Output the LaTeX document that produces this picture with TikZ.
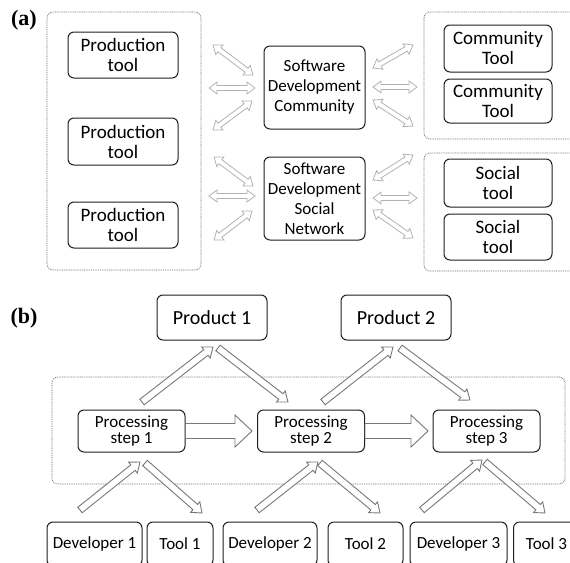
\documentclass[tikz,border=0pt]{standalone}
\usepackage{fontspec}
\setmainfont{Carlito}
\newfontfamily\panelfont{Liberation Serif}
\usetikzlibrary{calc}

\definecolor{lightarrow}{RGB}{178,178,178}
\definecolor{darkarrow}{RGB}{120,120,120}
\definecolor{framegray}{RGB}{120,120,120}
\definecolor{boxline}{RGB}{30,30,30}

% single-headed outline arrow: style, start, tip, shaft half-width, head half-width, head length
\newcommand\hollowone[6]{%
  \coordinate (hbase) at ($(#3)!#6!(#2)$);
  \draw[#1] ($(#2)!#4!90:(#3)$) -- ($(hbase)!#4!90:(#3)$) -- ($(hbase)!#5!90:(#3)$)
    -- (#3) -- ($(hbase)!#5!-90:(#3)$) -- ($(hbase)!#4!-90:(#3)$) -- ($(#2)!#4!-90:(#3)$) -- cycle;}

% double-headed outline arrow: style, end A, end B, shaft half-width, head half-width, head length
\newcommand\hollowtwo[6]{%
  \coordinate (hbasea) at ($(#2)!#6!(#3)$);
  \coordinate (hbaseb) at ($(#3)!#6!(#2)$);
  \draw[#1] (#2) -- ($(hbasea)!#5!90:(#3)$) -- ($(hbasea)!#4!90:(#3)$) -- ($(hbaseb)!#4!90:(#3)$)
    -- ($(hbaseb)!#5!90:(#3)$) -- (#3) -- ($(hbaseb)!#5!-90:(#3)$) -- ($(hbaseb)!#4!-90:(#3)$)
    -- ($(hbasea)!#4!-90:(#3)$) -- ($(hbasea)!#5!-90:(#3)$) -- cycle;}

\tikzset{
  box/.style={draw=boxline, line width=1pt, rounded corners=6pt, fill=white, align=center, inner sep=0pt},
  sidebox/.style={box, minimum width=110pt, font=\fontsize{19}{20}\selectfont},
  hubbox/.style={box, minimum width=101pt, minimum height=83pt, font=\fontsize{17}{20}\selectfont},
  prodbox/.style={box, minimum width=110pt, minimum height=45pt, font=\fontsize{20}{24}\selectfont},
  stepbox/.style={box, minimum width=107pt, minimum height=42pt, font=\fontsize{17}{16}\selectfont},
  basebox/.style={box, minimum height=44pt, font=\fontsize{17}{20}\selectfont},
  frame/.style={draw=framegray, line width=0.7pt, dash pattern=on 1pt off 0.8pt, rounded corners=6pt},
  lightarr/.style={draw=lightarrow, line width=0.8pt, fill=white, line join=miter},
  darkarr/.style={draw=darkarrow, line width=0.9pt, fill=white, line join=miter},
  panel/.style={font=\panelfont\bfseries\fontsize{22}{24}\selectfont, inner sep=0pt}
}

\begin{document}
\begin{tikzpicture}[x=1pt, y=-1pt]
\useasboundingbox (0,0) rectangle (570,562);
\clip (0,0) rectangle (570,562);

% ---------------- panel (a) ----------------
\node[panel] (pa) at (24,20) {(a)};

\draw[frame] (47,12) rectangle (201,270);
\draw[frame] (424,12) rectangle (590,139);
\draw[frame] (424,153) rectangle (590,271);

\node[sidebox, minimum height=46pt] (pt1) at (123,55) {Production\\tool};
\node[sidebox, minimum height=47pt] (pt2) at (123,141.5) {Production\\tool};
\node[sidebox, minimum height=46pt] (pt3) at (123,225) {Production\\tool};

\node[hubbox] (sdc) at (314.5,87.5) {Software\\Development\\Community};
\node[hubbox] (sdsn) at (314.5,198.5) {Software\\Development\\Social\\Network};

\node[sidebox, minimum width=108pt, minimum height=47pt] (ct1) at (498,48.5) {Community\\Tool};
\node[sidebox, minimum width=108pt, minimum height=44pt] (ct2) at (498,101) {Community\\Tool};
\node[sidebox, minimum width=108pt, minimum height=48pt] (st1) at (498,183) {Social\\tool};
\node[sidebox, minimum width=108pt, minimum height=46pt] (st2) at (498,237) {Social\\tool};

% arrow ends between the production tools and the two hubs
\coordinate (l1a) at (213,45);  \coordinate (l1b) at (253,75);
\coordinate (l2a) at (209,88);  \coordinate (l2b) at (255,88);
\coordinate (l3a) at (213,130); \coordinate (l3b) at (252,101);
\coordinate (l4a) at (214,157); \coordinate (l4b) at (253,186);
\coordinate (l5a) at (209,196); \coordinate (l5b) at (255,196);
\coordinate (l6a) at (214,240); \coordinate (l6b) at (252,211);
% arrow ends between the hubs and the community / social tools
\coordinate (r1a) at (373,68);  \coordinate (r1b) at (413,45);
\coordinate (r2a) at (373,87);  \coordinate (r2b) at (417,87);
\coordinate (r3a) at (373,100); \coordinate (r3b) at (413,126);
\coordinate (r4a) at (373,180); \coordinate (r4b) at (413,155);
\coordinate (r5a) at (373,198); \coordinate (r5b) at (417,198);
\coordinate (r6a) at (373,210); \coordinate (r6b) at (413,238);

\foreach \e in {l1,l2,l3,l4,l5,l6,r1,r2,r3,r4,r5,r6}{
  \hollowtwo{lightarr}{\e a}{\e b}{2.5pt}{6pt}{8pt}
}

% ---------------- panel (b) ----------------
\node[panel] (pb) at (24,318) {(b)};

\draw[frame] (52,377) rectangle (565,484);

\node[prodbox] (p1) at (212,317.5) {Product 1};
\node[prodbox] (p2) at (396,317.5) {Product 2};

\node[stepbox] (s1) at (131.5,431) {Processing\\step 1};
\node[stepbox] (s2) at (311,431) {Processing\\step 2};
\node[stepbox] (s3) at (486.5,431) {Processing\\step 3};

\node[basebox, minimum width=95pt] (d1) at (94.5,544) {Developer 1};
\node[basebox, minimum width=66pt] (t1) at (180,544) {Tool 1};
\node[basebox, minimum width=94pt] (d2) at (270,544) {Developer 2};
\node[basebox, minimum width=75pt] (t2) at (365.5,544) {Tool 2};
\node[basebox, minimum width=97pt] (d3) at (458.5,544) {Developer 3};
\node[basebox, minimum width=66pt, anchor=west] (t3) at (513,544) {Tool 3};

% flow between processing steps
\coordinate (h1a) at (s1.east); \coordinate (h1b) at (252,431);
\coordinate (h2a) at (s2.east); \coordinate (h2b) at (428,431);
\hollowone{darkarr}{h1a}{h1b}{7.5pt}{16pt}{17pt}
\hollowone{darkarr}{h2a}{h2b}{7.5pt}{16pt}{17pt}

% steps to and from products
\coordinate (u1a) at (142,402); \coordinate (u1b) at (213,347);
\coordinate (u2a) at (218,348); \coordinate (u2b) at (288,402);
\coordinate (u3a) at (323,402); \coordinate (u3b) at (393,347);
\coordinate (u4a) at (400,348); \coordinate (u4b) at (470,400);
% developers into steps, steps out to tools
\coordinate (w1a) at (80,510);  \coordinate (w1b) at (140,462);
\coordinate (w2a) at (145,463); \coordinate (w2b) at (202,513);
\coordinate (w3a) at (257,510); \coordinate (w3b) at (318,462);
\coordinate (w4a) at (320,463); \coordinate (w4b) at (380,513);
\coordinate (w5a) at (422,510); \coordinate (w5b) at (482,460);
\coordinate (w6a) at (485,462); \coordinate (w6b) at (545,513);

\foreach \e in {u1,u2,u3,u4,w1,w2,w3,w4,w5,w6}{
  \hollowone{darkarr}{\e a}{\e b}{3.5pt}{7pt}{9pt}
}
\end{tikzpicture}
\end{document}
